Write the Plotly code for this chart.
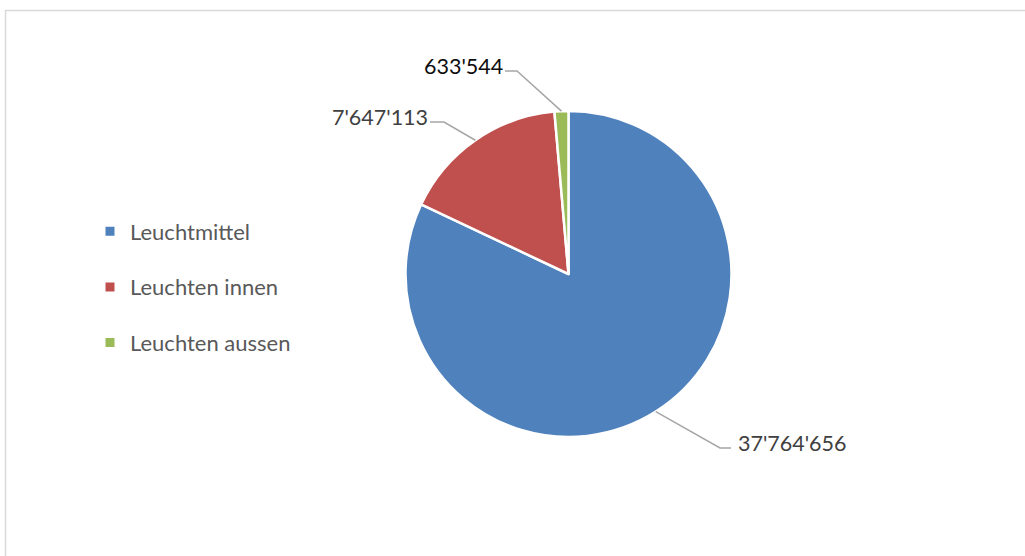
import math
import plotly.graph_objects as go

categories = ["Leuchtmittel", "Leuchten innen", "Leuchten aussen"]
values = [37764656, 7647113, 633544]
colors = ["#4F81BD", "#C0504D", "#9BBB59"]
label_colors = ["#404040", "#404040", "#0D0D0D"]

W, H = 1025, 556
CX, CY, R = 568.5, 274.0, 163.0

label_layout = [
    {"elbow": (720, 448), "end": (731, 448), "anchor": "left"},
    {"elbow": (444, 122), "end": (430, 122), "anchor": "right"},
    {"elbow": (517, 71), "end": (505, 71), "anchor": "right"},
]

def fmt(v):
    return f"{v:,}".replace(",", "'")

def px(x):
    return x / W

def py(y):
    return 1 - y / H

fig = go.Figure()
fig.add_trace(go.Pie(
    labels=categories, values=values, sort=False, direction="clockwise", rotation=0,
    marker=dict(colors=colors, line=dict(color="white", width=2.5)),
    textinfo="none", hoverinfo="label+value", showlegend=False,
    domain=dict(x=[px(CX - R), px(CX + R)], y=[py(CY + R), py(CY - R)]),
))

for c, col in zip(categories, colors):
    fig.add_trace(go.Scatter(
        x=[None], y=[None], mode="markers", name=c, legendgroup=c,
        marker=dict(symbol="square", size=9, color=col),
        xaxis="x", yaxis="y",
    ))

total = sum(values)
cum = 0.0
shapes = []
annotations = []
for i, v in enumerate(values):
    mid = (cum + v / 2) / total * 2 * math.pi
    cum += v
    ex, ey = CX + R * math.sin(mid), CY - R * math.cos(mid)
    lay = label_layout[i]
    (bx, by), (tx, ty) = lay["elbow"], lay["end"]
    shapes.append(dict(type="path", xref="x", yref="y",
                       path=f"M {ex},{ey} L {bx},{by} L {tx},{ty}",
                       line=dict(color="#A6A6A6", width=1.5)))
    annotations.append(dict(
        x=tx + (5 if lay["anchor"] == "left" else 0), y=ty - 5, xref="x", yref="y",
        text=fmt(v), showarrow=False, xanchor=lay["anchor"], yanchor="middle",
        font=dict(family="Lato, sans-serif", size=21.5, color=label_colors[i]),
    ))

shapes.append(dict(type="rect", xref="x", yref="y", x0=5.5, y0=10.5, x1=1040, y1=580,
                   line=dict(color="#D9D9D9", width=1.5), fillcolor="rgba(0,0,0,0)"))

fig.update_layout(
    width=W, height=H, margin=dict(l=0, r=0, t=0, b=0),
    paper_bgcolor="white", plot_bgcolor="rgba(0,0,0,0)",
    xaxis=dict(range=[0, W], visible=False, fixedrange=True, domain=[0, 1]),
    yaxis=dict(range=[H, 0], visible=False, fixedrange=True, domain=[0, 1]),
    shapes=shapes, annotations=annotations,
    showlegend=True,
    legend=dict(x=px(90), xanchor="left", y=py(287), yanchor="middle",
                tracegroupgap=24, font=dict(family="Lato, sans-serif", size=22, color="#595959"),
                bgcolor="rgba(0,0,0,0)", itemclick=False, itemdoubleclick=False),
)

fig.write_html("out.html", config={"displayModeBar": False},
               post_script="document.body.style.margin='0';document.body.style.overflow='hidden';")
